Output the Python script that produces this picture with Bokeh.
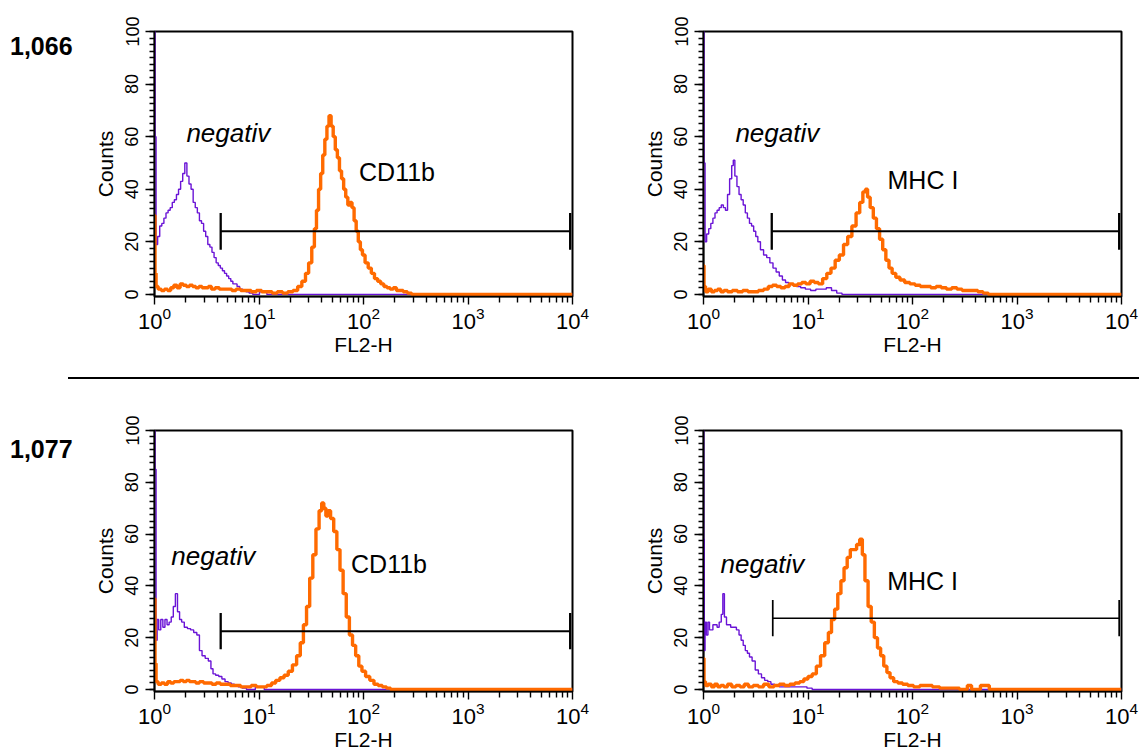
import numpy as np
from bokeh.plotting import figure
from bokeh.layouts import column, row
from bokeh.models import Range1d, FixedTicker, SingleIntervalTicker, Div, Spacer
from bokeh.core.properties import value
from bokeh.embed import file_html
from bokeh.resources import INLINE

PURPLE = "#6A14D6"
ORANGE = "#FF6A00"
FONT = "Liberation Sans"

# ---------------- data (log10 FL2-H, counts) ----------------
# sample 1,066 / CD11b
tl_neg_log = [0.00, 0.01, 0.02, 0.04, 0.06, 0.08, 0.10, 0.12, 0.14, 0.16, 0.18, 0.20, 0.22, 0.24, 0.26,
              0.28, 0.30, 0.32, 0.34, 0.36, 0.38, 0.40, 0.42, 0.44, 0.46, 0.48, 0.50, 0.52, 0.54, 0.56,
              0.58, 0.60, 0.62, 0.64, 0.66, 0.68, 0.70, 0.72, 0.74, 0.76, 0.78, 0.80, 0.83, 0.86, 0.89,
              0.92, 0.96, 1.05, 1.10, 4.00]
tl_neg_cnt = [110, 60, 19, 22, 26, 27, 29, 31, 32, 33, 35, 36, 38, 40, 43,
              46, 50, 45, 42, 40, 35, 33, 31, 28, 27, 24, 22, 19, 18, 16,
              14, 12, 11, 10, 9, 8, 7, 6, 5, 4, 4, 3, 2, 1.5, 1,
              0.5, 0, 1, 0, 0]
tl_pos_log = [0.00, 0.01, 0.02, 0.05, 0.08, 0.11, 0.14, 0.17, 0.20, 0.23, 0.26, 0.29, 0.32, 0.35, 0.38,
              0.41, 0.44, 0.47, 0.50, 0.53, 0.56, 0.60, 0.64, 0.68, 0.72, 0.76, 0.80, 0.85, 0.90, 0.95,
              1.00, 1.05, 1.10, 1.15, 1.20, 1.25, 1.30, 1.35, 1.39, 1.43, 1.46, 1.49, 1.52, 1.54, 1.56,
              1.58, 1.60, 1.62, 1.64, 1.66, 1.68, 1.70, 1.72, 1.74, 1.76, 1.78, 1.80, 1.82, 1.84, 1.86,
              1.88, 1.90, 1.92, 1.94, 1.96, 1.98, 2.00, 2.03, 2.06, 2.09, 2.12, 2.15, 2.18, 2.21, 2.24,
              2.27, 2.30, 2.33, 2.36, 2.40, 2.44, 2.48, 4.00]
tl_pos_cnt = [30, 8, 3, 2, 1.5, 2, 1.5, 2.5, 3.5, 2.5, 4, 3.5, 3, 3.5, 3,
              2.5, 3, 2.5, 2.5, 3, 2, 2.5, 2, 2, 2, 1.5, 2, 1.5, 1.5, 1,
              1.5, 1, 1, 0.5, 1, 0.5, 1, 1.5, 3, 5, 8, 12, 18, 25, 32,
              40, 46, 53, 59, 64, 68, 64, 60, 55, 52, 47, 44, 40, 37, 34,
              35, 33, 28, 24, 20, 17, 15, 12, 10, 8, 6, 5, 4, 3, 2.5,
              2, 2.5, 1.5, 1.5, 1, 0.5, 0, 0]

# sample 1,066 / MHC I
tr_neg_log = [0.00, 0.01, 0.02, 0.04, 0.06, 0.08, 0.10, 0.12, 0.14, 0.16, 0.18, 0.20, 0.22, 0.24, 0.26,
              0.28, 0.29, 0.31, 0.33, 0.35, 0.37, 0.39, 0.41, 0.43, 0.45, 0.47, 0.49, 0.51, 0.53, 0.56,
              0.59, 0.62, 0.65, 0.68, 0.71, 0.74, 0.77, 0.80, 0.83, 0.87, 0.91, 0.95, 1.00, 1.05, 1.10,
              1.15, 1.20, 1.25, 1.30, 1.35, 4.00]
tr_neg_cnt = [110, 50, 20, 23, 25, 27, 29, 31, 32, 33, 34, 33, 32, 38, 44,
              49, 51, 45, 41, 38, 36, 34, 31, 29, 27, 26, 24, 22, 20, 17,
              15, 14, 12, 10, 8.5, 7, 5.5, 4.5, 4, 3.5, 3, 2.5, 2, 1.5, 2,
              2, 2.5, 1.5, 0.5, 0, 0]
tr_pos_log = [0.00, 0.01, 0.03, 0.06, 0.09, 0.12, 0.15, 0.18, 0.21, 0.25, 0.30, 0.35, 0.40, 0.45, 0.50,
              0.55, 0.60, 0.64, 0.68, 0.72, 0.76, 0.80, 0.84, 0.88, 0.92, 0.96, 1.00, 1.04, 1.08, 1.12,
              1.16, 1.20, 1.24, 1.28, 1.32, 1.36, 1.40, 1.44, 1.48, 1.51, 1.54, 1.56, 1.58, 1.61, 1.64,
              1.67, 1.70, 1.73, 1.76, 1.79, 1.82, 1.86, 1.90, 1.95, 2.00, 2.05, 2.10, 2.15, 2.20, 2.25,
              2.30, 2.35, 2.40, 2.45, 2.50, 2.55, 2.60, 2.65, 2.70, 2.75, 4.00]
tr_pos_cnt = [11, 3, 1, 2, 1, 1.5, 2, 1, 1.5, 1, 1.5, 1, 1.5, 1, 1,
              1.5, 2, 3, 3.5, 3, 2.5, 3, 4, 3.5, 4, 4.5, 4, 5, 4.5, 4,
              6, 8, 10, 13, 15, 19, 22, 26, 31, 35, 39, 40, 37, 33, 29,
              25, 21, 17, 13, 10, 8, 6.5, 5.5, 4.5, 4, 3.5, 3, 3, 2.5, 3,
              2.5, 2, 2.5, 2, 1.5, 1.5, 1.5, 1, 0.5, 0, 0]

# sample 1,077 / CD11b
bl_neg_log = [0.00, 0.01, 0.02, 0.03, 0.05, 0.07, 0.09, 0.11, 0.13, 0.15, 0.17, 0.19, 0.21, 0.23, 0.25,
              0.27, 0.30, 0.33, 0.36, 0.39, 0.42, 0.44, 0.47, 0.50, 0.53, 0.55, 0.57, 0.60, 0.63, 0.66,
              0.69, 0.72, 0.75, 0.78, 0.82, 0.86, 0.90, 1.03, 1.07, 4.00]
bl_neg_cnt = [110, 85, 19, 27, 23, 27, 24, 27, 25, 26, 28, 32, 37, 30, 27,
              26, 24, 23.5, 23, 22, 21, 15, 13, 12, 11, 8, 6, 5.5, 5, 4,
              3, 2.5, 2, 1.5, 1, 0.5, 0, 1, 0, 0]
bl_pos_log = [0.00, 0.01, 0.02, 0.05, 0.08, 0.11, 0.14, 0.17, 0.20, 0.23, 0.26, 0.29, 0.32, 0.35, 0.38,
              0.41, 0.45, 0.49, 0.53, 0.57, 0.61, 0.65, 0.70, 0.75, 0.80, 0.85, 0.90, 0.95, 1.00, 1.05,
              1.10, 1.14, 1.18, 1.22, 1.26, 1.30, 1.34, 1.38, 1.41, 1.44, 1.47, 1.50, 1.53, 1.56, 1.59,
              1.61, 1.63, 1.65, 1.67, 1.70, 1.73, 1.76, 1.79, 1.82, 1.85, 1.88, 1.91, 1.94, 1.97, 2.00,
              2.04, 2.08, 2.12, 2.16, 2.20, 2.24, 2.28, 4.00]
bl_pos_cnt = [35, 10, 3, 2, 2.5, 2, 3, 2.5, 3, 3, 3.5, 3, 3.5, 3, 3,
              2.5, 3, 2.5, 2.5, 2, 2.5, 2, 2, 1.5, 1.5, 1, 1, 1.5, 1, 1,
              1.5, 2.5, 3.5, 4.5, 5.5, 7, 9.5, 13, 18, 25, 32, 43, 52, 62, 69,
              72, 70, 67, 69, 66, 61, 54, 46, 37, 28, 21, 17, 13, 9, 7,
              5, 3.5, 2, 1.5, 1, 0.5, 0, 0]

# sample 1,077 / MHC I
br_neg_log = [0.00, 0.005, 0.01, 0.02, 0.035, 0.05, 0.065, 0.08, 0.10, 0.12, 0.14, 0.16, 0.18, 0.19, 0.21,
              0.23, 0.25, 0.27, 0.30, 0.33, 0.35, 0.37, 0.39, 0.41, 0.43, 0.45, 0.48, 0.51, 0.54, 0.57,
              0.60, 0.63, 0.66, 0.70, 0.75, 0.80, 0.85, 0.90, 0.96, 1.02, 1.06, 4.00]
br_neg_cnt = [110, 58, 15, 26, 21, 26, 23, 23, 25, 25, 24, 26, 29, 37, 28,
              25, 25, 24, 24, 23, 21, 19, 17, 15, 14, 12.5, 11, 7.5, 6, 4.5,
              3.5, 3, 2, 1.5, 1, 1, 1, 1, 1, 0.5, 0, 0]
br_pos_log = [0.00, 0.01, 0.03, 0.06, 0.09, 0.12, 0.15, 0.18, 0.21, 0.25, 0.29, 0.33, 0.37, 0.41, 0.45,
              0.50, 0.55, 0.60, 0.65, 0.70, 0.75, 0.80, 0.85, 0.90, 0.94, 0.98, 1.02, 1.06, 1.10, 1.14,
              1.18, 1.21, 1.24, 1.27, 1.30, 1.33, 1.36, 1.39, 1.42, 1.45, 1.48, 1.51, 1.53, 1.56, 1.59,
              1.62, 1.65, 1.68, 1.71, 1.74, 1.77, 1.80, 1.84, 1.88, 1.93, 1.98, 2.04, 2.10, 2.16, 2.22,
              2.30, 2.40, 2.50, 2.55, 2.58, 2.72, 2.75, 4.00]
br_pos_cnt = [12, 3, 1.5, 2, 1, 2, 1, 1.5, 1, 2, 1, 1.5, 1, 2, 1,
              1.5, 1, 2, 1, 1.5, 2, 1.5, 2, 2.5, 3, 4, 5, 6, 9, 13,
              18, 22, 27, 31, 37, 42, 47, 51, 54, 54, 56, 58, 52, 42, 32,
              26, 20, 16, 13, 9, 6.5, 4.5, 3, 2.5, 2, 1.5, 1, 1.5, 1.5, 1,
              0.5, 0.5, 0, 1.5, 0, 1.5, 0, 0]

# gate markers (FL2-H from, FL2-H to, counts level)
gate_lo = [4.3, 4.5, 4.3, 4.6]
gate_hi = [9500, 9500, 9500, 9500]
gate_level = [24, 24, 22.5, 27.5]

sample_names = ["1,066", "1,077"]
marker_names = ["CD11b", "MHC I", "CD11b", "MHC I"]
neg_label_pos = [(2.02, 61.5), (2.02, 61.5), (1.45, 51.5), (1.455, 48.5)]
marker_label_pos = [(90.6, 46.5), (57.7, 43.5), (76.0, 48.5), (57.3, 42.0)]

x_decades = [1, 10, 100, 1000, 10000]
x_minor = [m * d for d in [1, 10, 100, 1000] for m in range(2, 10)]


def panel(i, width, height, mbl, mbr, mbt, mbb, neg_log, neg_cnt, pos_log, pos_cnt, gate_w):
    p = figure(width=width, height=height, x_axis_type="log",
               x_range=Range1d(1, 10000), y_range=Range1d(-0.8, 100),
               output_backend="svg", toolbar_location=None,
               min_border_left=mbl, min_border_right=mbr,
               min_border_top=mbt, min_border_bottom=mbb)
    p.grid.visible = False
    p.outline_line_color = "black"
    p.outline_line_width = 2
    p.outline_line_alpha = 1.0
    p.background_fill_color = "white"
    p.border_fill_color = "white"

    p.step(x=10 ** np.array(neg_log), y=neg_cnt, mode="center",
           line_color=PURPLE, line_width=1.4)
    p.step(x=10 ** np.array(pos_log), y=pos_cnt, mode="center",
           line_color=ORANGE, line_width=3.4)

    lo, hi, lv = gate_lo[i], gate_hi[i], gate_level[i]
    cap = 7
    p.segment(x0=[lo], y0=[lv], x1=[hi], y1=[lv], line_color="black", line_width=gate_w)
    p.segment(x0=[lo, hi], y0=[lv - cap, lv - cap], x1=[lo, hi], y1=[lv + cap, lv + cap],
              line_color="black", line_width=gate_w + 0.3)

    p.text(x=[neg_label_pos[i][0]], y=[neg_label_pos[i][1]], text=["negativ"],
           text_font=value(FONT), text_font_size="26px", text_font_style="italic",
           text_baseline="alphabetic", text_align="left", text_color="black")
    p.text(x=[marker_label_pos[i][0]], y=[marker_label_pos[i][1]], text=[marker_names[i]],
           text_font=value(FONT), text_font_size="25px",
           text_baseline="alphabetic", text_align="left", text_color="black")

    xa = p.xaxis[0]
    xa.ticker = FixedTicker(ticks=x_decades, minor_ticks=x_minor)
    xa.axis_label = "FL2-H"
    xa.axis_label_text_font = FONT
    xa.axis_label_text_font_size = "21px"
    xa.axis_label_text_font_style = "normal"
    xa.axis_label_text_color = "black"
    xa.axis_label_standoff = 1
    xa.major_label_text_font = FONT
    xa.major_label_text_font_size = "22px"
    xa.major_label_text_color = "black"
    xa.major_label_standoff = 2
    xa.major_tick_in = 0
    xa.major_tick_out = 8
    xa.minor_tick_in = 0
    xa.minor_tick_out = 6
    xa.axis_line_width = 1.5
    xa.axis_line_color = "black"
    xa.major_tick_line_width = 1.4
    xa.minor_tick_line_width = 1.4
    xa.major_tick_line_color = "black"
    xa.minor_tick_line_color = "black"

    ya = p.yaxis[0]
    ya.ticker = SingleIntervalTicker(interval=20, num_minor_ticks=8)
    ya.axis_label = "Counts"
    ya.axis_label_text_font = FONT
    ya.axis_label_text_font_size = "21px"
    ya.axis_label_text_font_style = "normal"
    ya.axis_label_text_color = "black"
    ya.axis_label_standoff = 6
    ya.major_label_text_font = FONT
    ya.major_label_text_font_size = "18px"
    ya.major_label_text_color = "black"
    ya.major_label_orientation = "vertical"
    ya.major_label_standoff = 7
    ya.major_tick_in = 0
    ya.major_tick_out = 9
    ya.minor_tick_in = 0
    ya.minor_tick_out = 5
    ya.axis_line_width = 1.5
    ya.axis_line_color = "black"
    ya.major_tick_line_width = 1.4
    ya.minor_tick_line_width = 1.4
    ya.major_tick_line_color = "black"
    ya.minor_tick_line_color = "black"
    return p


def sample_label(name, h, top):
    html = ('<div style="margin-top:%dpx;margin-left:10px;font-family:\'Liberation Sans\',Arial,sans-serif;'
            'font-weight:bold;font-size:25px;line-height:25px;color:#000;">%s</div>' % (top, name))
    return Div(text=html, width=90, height=h, margin=0)


TOP_H = 377
BOT_H = 374

p1 = panel(0, 502, TOP_H, 63, 20, 31, 81, tl_neg_log, tl_neg_cnt, tl_pos_log, tl_pos_cnt, 2.0)
p2 = panel(1, 547, TOP_H, 111, 18, 31, 81, tr_neg_log, tr_neg_cnt, tr_pos_log, tr_pos_cnt, 2.0)
p3 = panel(2, 502, BOT_H, 63, 20, 51, 60, bl_neg_log, bl_neg_cnt, bl_pos_log, bl_pos_cnt, 2.0)
p4 = panel(3, 547, BOT_H, 111, 18, 51, 60, br_neg_log, br_neg_cnt, br_pos_log, br_pos_cnt, 1.4)

top_row = row(sample_label(sample_names[0], TOP_H, 34), p1, p2)
sep_row = row(Spacer(width=68, height=2, margin=0),
              Div(text="", width=1071, height=2, margin=0, styles={"background-color": "#000"}))
bot_row = row(sample_label(sample_names[1], BOT_H, 58), p3, p4)

layout = column(top_row, sep_row, bot_row)

open("out.html", "w").write(file_html(layout, INLINE, "FL2-H histograms"))
